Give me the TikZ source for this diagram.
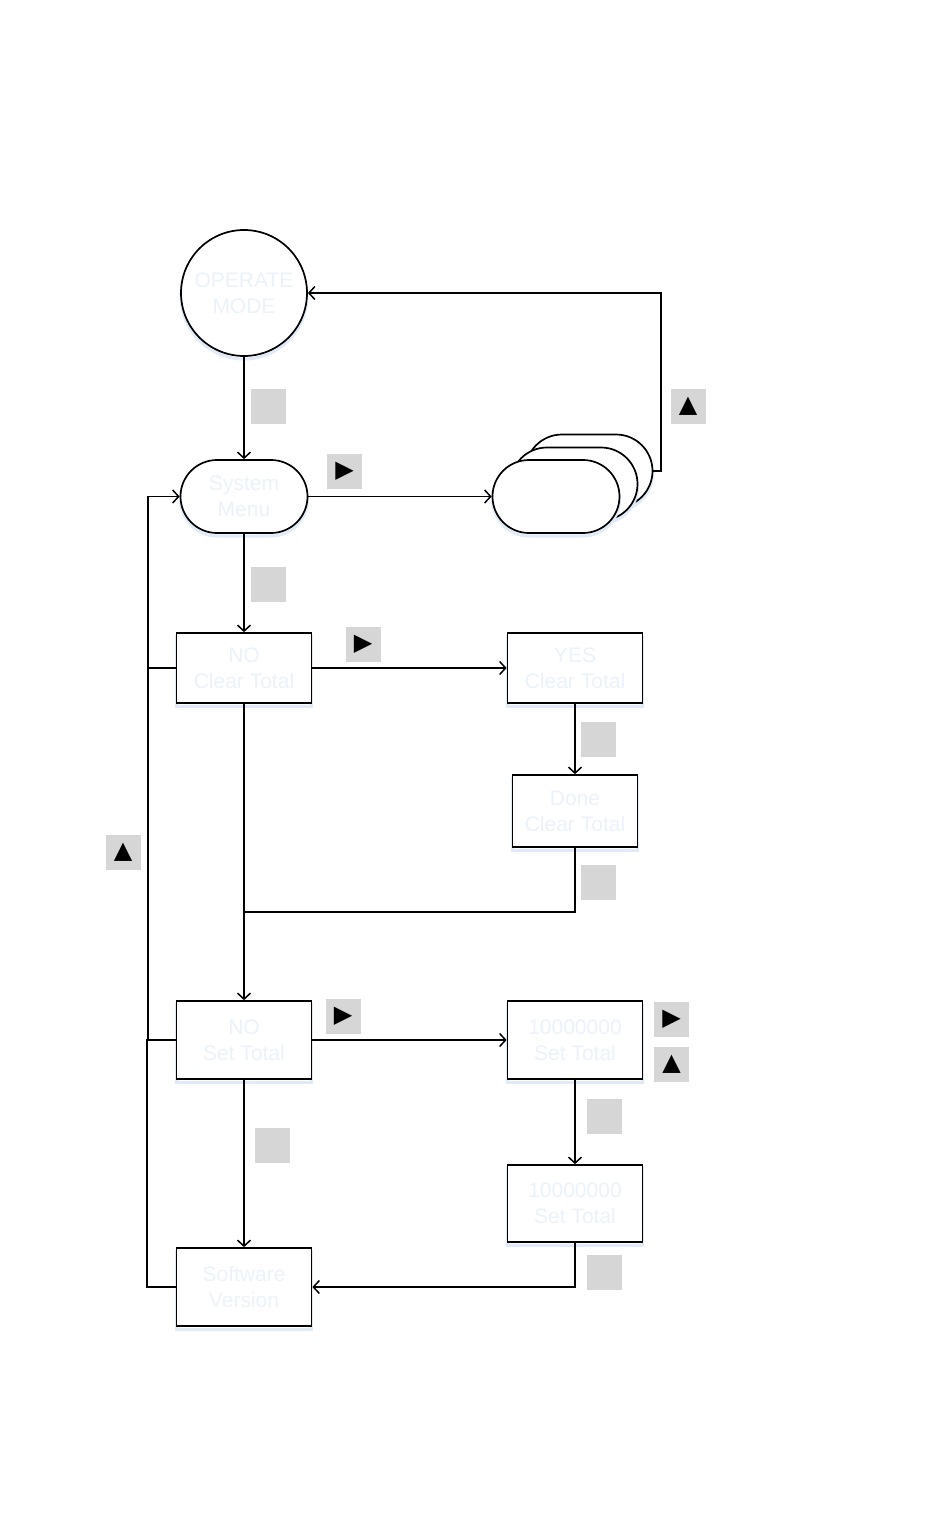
\documentclass[tikz,border=0pt]{standalone}
\usepackage{fontspec}
\setmainfont{Liberation Sans}
\newfontfamily\symfont{DejaVu Sans}
\usetikzlibrary{arrows.meta,shapes.misc,shapes.geometric,calc}
\definecolor{txt}{RGB}{236,242,250}
\definecolor{keyg}{RGB}{214,214,214}
\definecolor{shad}{RGB}{225,235,248}
\begin{document}
\begin{tikzpicture}[x=1pt,y=-1pt,
  every node/.style={font=\fontsize{21}{26}\selectfont, text=txt, align=center, inner sep=0pt},
  line/.style={line width=1.7pt, draw=black},
  arr/.style={line, -{Straight Barb[length=6pt,width=13pt,line width=1.5pt]}},
  boxn/.style={line, fill=white, minimum width=135pt, minimum height=70pt, rectangle,
     preaction={draw=shad, line width=3pt, transform canvas={yshift=-3pt}}},
  stad/.style={line, fill=white, rounded rectangle, minimum width=127pt, minimum height=73pt,
     preaction={draw=shad, line width=3pt, transform canvas={yshift=-3pt}}},
  keyb/.style={fill=keyg, minimum width=35pt, minimum height=35pt, text=black,
     font=\symfont\fontsize{24}{24}\selectfont},
]
\useasboundingbox (0,0) rectangle (950,1525);
% nodes
\node[line, fill=white, circle, minimum size=126pt, preaction={draw=shad, line width=3pt, transform canvas={yshift=-3pt}}] (om) at (244,293) {OPERATE\\MODE};
\node[stad] (sm) at (244,496.5) {System\\Menu};
\node[stad] (s3) at (589,471) {};
\node[stad] (s2) at (574,484) {};
\node[stad] (s1) at (556,496.5) {};
\node[boxn, minimum height=70pt] (nct) at (244,668) {NO\\Clear Total};
\node[boxn, minimum height=70pt] (yct) at (575,668) {YES\\Clear Total};
\node[boxn, minimum width=125pt, minimum height=72pt] (dct) at (575,811) {Done\\Clear Total};
\node[boxn, minimum height=78pt] (nst) at (244,1040) {NO\\Set Total};
\node[boxn, minimum height=78pt] (st1) at (575,1040) {10000000\\Set Total};
\node[boxn, minimum height=77pt] (st2) at (575,1203.5) {10000000\\Set Total};
\node[boxn, minimum height=78pt] (sv) at (244,1287) {Software\\Version};
% key boxes
\node[keyb] (k1) at (268,406) {};
\node[keyb] (k2) at (344.5,471.5) {▶};
\node[keyb] (k3) at (688,406) {▲};
\node[keyb] (k4) at (268,584) {};
\node[keyb] (k5) at (363,644) {▶};
\node[keyb] (k6) at (598.5,739) {};
\node[keyb] (k7) at (598.5,882) {};
\node[keyb] (k8) at (123,852) {▲};
\node[keyb] (k9) at (343,1016) {▶};
\node[keyb] (k10) at (671.5,1019) {▶};
\node[keyb] (k11) at (671.5,1064) {▲};
\node[keyb] (k12) at (604.5,1116) {};
\node[keyb] (k13) at (272,1145) {};
\node[keyb] (k14) at (604.5,1272) {};
% coordinates
\coordinate (r1) at (661,471);
\coordinate (r2) at (661,293);
\coordinate (jn) at (244,912);
\coordinate (l1) at (148,496.5);
\coordinate (l2) at (148,668);
\coordinate (l3) at (148,1040);
\coordinate (l4) at (147,1040);
\coordinate (l5) at (147,1287);
\coordinate (b2) at (575,1287);
% connectors
\draw[arr] (om.south) -- (sm.north);
\draw[arr] (sm.east) -- (s1.west);
\draw[arr] (s3.east) -- (r1) -- (r2) -- (om.east);
\draw[arr] (sm.south) -- (nct.north);
\draw[arr] (nct.east) -- (yct.west);
\draw[arr] (yct.south) -- (dct.north);
\draw[line] (dct.south) |- (jn);
\draw[arr] (nct.south) -- (nst.north);
\draw[arr] (nst.east) -- (st1.west);
\draw[arr] (st1.south) -- (st2.north);
\draw[arr] (nst.south) -- (sv.north);
\draw[arr] (st2.south) -- (b2) -- (sv.east);
\draw[arr] (nct.west) -- (l2) -- (l1) -- (sm.west);
\draw[line] (nst.west) -- (l3) -- (l2);
\draw[line] (sv.west) -- (l5) -- (l4) -- (nst.west);
\end{tikzpicture}
\end{document}
